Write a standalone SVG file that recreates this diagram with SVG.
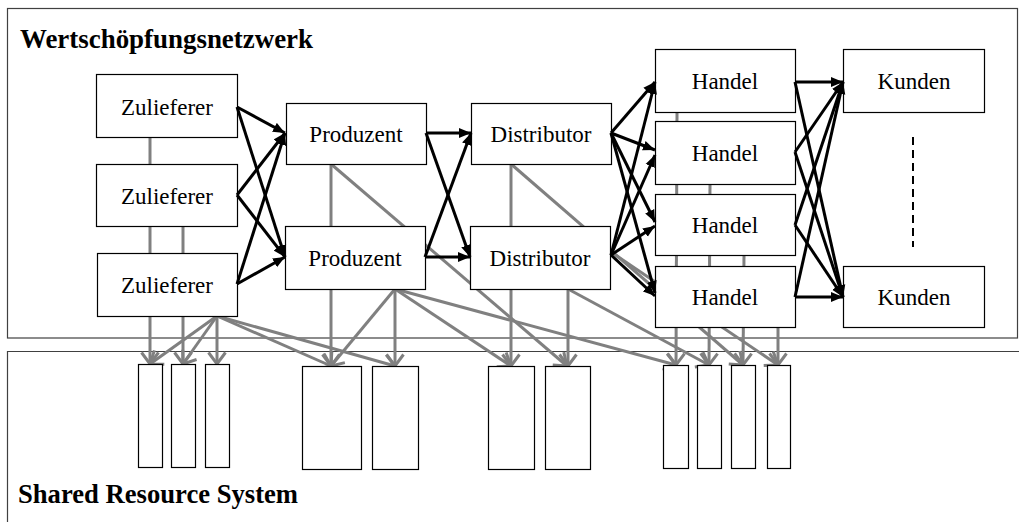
<svg xmlns="http://www.w3.org/2000/svg" width="1019" height="522" viewBox="0 0 1019 522">
  <defs>
    <style>
      .frame { fill: none; stroke: #404040; stroke-width: 1.2; }
      .node rect { fill: #ffffff; stroke: #000000; stroke-width: 1.2; }
      .node text { font-family: "Liberation Serif", "Times New Roman", serif; font-size: 23px; fill: #000000; text-anchor: middle; }
      .res { fill: #ffffff; stroke: #000000; stroke-width: 1.2; }
      .title { font-family: "Liberation Serif", "Times New Roman", serif; font-size: 26.5px; font-weight: bold; fill: #000000; }
      .flow line { stroke: #000000; stroke-width: 3; marker-end: url(#head-black); }
      .share line { stroke: #808080; stroke-width: 3; }
      .share line.arr { marker-end: url(#head-gray); }
    </style>
    <marker id="head-black" markerUnits="userSpaceOnUse" markerWidth="13" markerHeight="11" refX="12" refY="5.5" orient="auto">
      <path d="M0,0.5 L12,5.5 L0,10.5 z" fill="#000000"/>
    </marker>
    <marker id="head-gray" markerUnits="userSpaceOnUse" markerWidth="16" markerHeight="20" refX="13" refY="10" orient="auto">
      <path d="M1.5,1.5 L13,10 L1.5,18.5" fill="none" stroke="#808080" stroke-width="3" stroke-linejoin="miter"/>
    </marker>
  </defs>

  <rect width="1019" height="522" fill="#ffffff"/>

  <!-- frames -->
  <rect class="frame" x="7.5" y="8.5" width="1010" height="329.5"/>
  <path class="frame" d="M1019,351.5 H7.5 V522"/>
  <text class="title" x="20" y="48" textLength="293" lengthAdjust="spacingAndGlyphs">Wertschöpfungsnetzwerk</text>
  <text class="title" x="18" y="503" textLength="280" lengthAdjust="spacingAndGlyphs">Shared Resource System</text>

  <!-- resource usage links (drawn behind the nodes) -->
  <g id="resource-links" class="share">
    <line class="arr" x1="150" y1="137" x2="150" y2="364"/>
    <line class="arr" x1="183" y1="226" x2="183" y2="364"/>
    <line class="arr" x1="217" y1="316" x2="217" y2="364"/>
    <line class="arr" x1="217" y1="316" x2="150" y2="364"/>
    <line class="arr" x1="217" y1="316" x2="183" y2="364"/>
    <line class="arr" x1="217" y1="316" x2="331" y2="366"/>
    <line class="arr" x1="217" y1="316" x2="395" y2="366"/>

    <line class="arr" x1="331" y1="164" x2="331" y2="366"/>
    <line class="arr" x1="331" y1="164" x2="567" y2="366"/>
    <line class="arr" x1="395" y1="289" x2="395" y2="366"/>
    <line class="arr" x1="395" y1="289" x2="331" y2="366"/>
    <line class="arr" x1="395" y1="289" x2="511" y2="366"/>
    <line class="arr" x1="395" y1="289" x2="676" y2="365"/>

    <line class="arr" x1="511" y1="164" x2="511" y2="366"/>
    <line class="arr" x1="511" y1="164" x2="743" y2="365"/>
    <line class="arr" x1="568" y1="289" x2="568" y2="366"/>
    <line class="arr" x1="568" y1="289" x2="709" y2="365"/>

    <line class="arr" x1="677" y1="112" x2="676" y2="365"/>
    <line class="arr" x1="710" y1="184" x2="709" y2="365"/>
    <line class="arr" x1="744" y1="255" x2="743" y2="365"/>
    <line class="arr" x1="778" y1="327" x2="778" y2="365"/>
    <line class="arr" x1="611" y1="252" x2="778" y2="365"/>
  </g>

  <!-- shared resources -->
  <g id="resources">
    <rect class="res" x="138.5" y="364.5" width="24" height="103"/>
    <rect class="res" x="171.5" y="364.5" width="24" height="103"/>
    <rect class="res" x="205.5" y="364.5" width="24" height="103"/>
    <rect class="res" x="302.5" y="366.5" width="59" height="103"/>
    <rect class="res" x="372.5" y="366.5" width="46" height="103"/>
    <rect class="res" x="488.5" y="366.5" width="46" height="103"/>
    <rect class="res" x="545.5" y="366.5" width="45" height="103"/>
    <rect class="res" x="663.5" y="365.5" width="25" height="103"/>
    <rect class="res" x="697.5" y="365.5" width="24" height="103"/>
    <rect class="res" x="731.5" y="365.5" width="24" height="103"/>
    <rect class="res" x="767.5" y="365.5" width="23" height="103"/>
  </g>

  <!-- value network nodes -->
  <g id="zulieferer-1" class="node"><rect x="96.5" y="74.5" width="141" height="63"/><text x="167" y="115">Zulieferer</text></g>
  <g id="zulieferer-2" class="node"><rect x="96.5" y="164.5" width="141" height="62"/><text x="167" y="204">Zulieferer</text></g>
  <g id="zulieferer-3" class="node"><rect x="97.5" y="253.5" width="140" height="63"/><text x="167" y="293">Zulieferer</text></g>
  <g id="produzent-1" class="node"><rect x="286.5" y="103.5" width="140" height="61"/><text x="356" y="142">Produzent</text></g>
  <g id="produzent-2" class="node"><rect x="285.5" y="226.5" width="140" height="63"/><text x="355" y="266">Produzent</text></g>
  <g id="distributor-1" class="node"><rect x="471.5" y="103.5" width="140" height="61"/><text x="541" y="142">Distributor</text></g>
  <g id="distributor-2" class="node"><rect x="470.5" y="226.5" width="140" height="63"/><text x="540" y="266">Distributor</text></g>
  <g id="handel-1" class="node"><rect x="655.5" y="49.5" width="140" height="63"/><text x="725" y="89">Handel</text></g>
  <g id="handel-2" class="node"><rect x="655.5" y="121.5" width="140" height="63"/><text x="725" y="161">Handel</text></g>
  <g id="handel-3" class="node"><rect x="655.5" y="194.5" width="140" height="61"/><text x="725" y="233">Handel</text></g>
  <g id="handel-4" class="node"><rect x="655.5" y="266.5" width="140" height="61"/><text x="725" y="305">Handel</text></g>
  <g id="kunden-1" class="node"><rect x="843.5" y="49.5" width="141" height="63"/><text x="914" y="89">Kunden</text></g>
  <g id="kunden-2" class="node"><rect x="843.5" y="266.5" width="141" height="61"/><text x="914" y="305">Kunden</text></g>

  <!-- ellipsis between customers -->
  <line x1="913" y1="137" x2="913" y2="247" stroke="#000000" stroke-width="2" stroke-dasharray="8,5"/>

  <!-- goods flow -->
  <g id="flows" class="flow">
    <line x1="237" y1="107" x2="285" y2="133"/>
    <line x1="237" y1="107" x2="285" y2="257"/>
    <line x1="237" y1="195" x2="285" y2="133"/>
    <line x1="237" y1="195" x2="285" y2="257"/>
    <line x1="237" y1="284" x2="285" y2="133"/>
    <line x1="237" y1="284" x2="285" y2="257"/>

    <line x1="426" y1="133" x2="471" y2="133"/>
    <line x1="426" y1="133" x2="470" y2="257"/>
    <line x1="425" y1="257" x2="470" y2="257"/>
    <line x1="425" y1="257" x2="471" y2="133"/>

    <line x1="611" y1="133" x2="655" y2="82"/>
    <line x1="611" y1="133" x2="655" y2="150"/>
    <line x1="611" y1="133" x2="655" y2="222"/>
    <line x1="611" y1="133" x2="655" y2="293"/>
    <line x1="611" y1="255" x2="655" y2="82"/>
    <line x1="611" y1="255" x2="655" y2="155"/>
    <line x1="611" y1="255" x2="655" y2="226"/>
    <line x1="611" y1="255" x2="655" y2="296"/>

    <line x1="795" y1="82" x2="843" y2="82"/>
    <line x1="795" y1="82" x2="843" y2="297"/>
    <line x1="795" y1="152" x2="843" y2="82"/>
    <line x1="795" y1="152" x2="843" y2="297"/>
    <line x1="795" y1="225" x2="843" y2="82"/>
    <line x1="795" y1="225" x2="843" y2="297"/>
    <line x1="795" y1="297" x2="843" y2="82"/>
    <line x1="795" y1="297" x2="843" y2="297"/>
  </g>
</svg>
